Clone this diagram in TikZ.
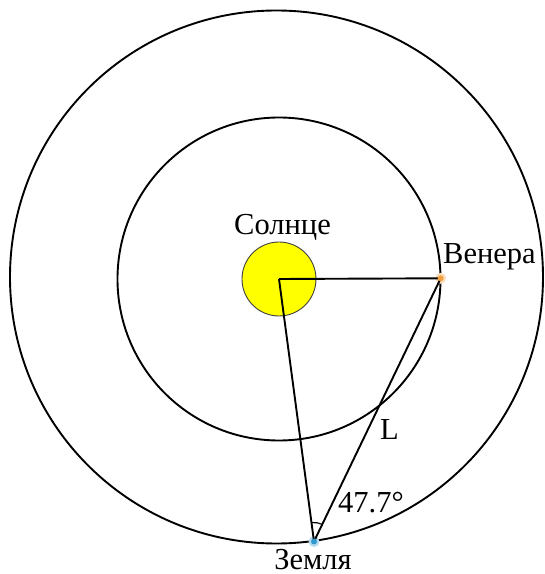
\documentclass[tikz,border=0pt]{standalone}
\usepackage{fontspec}
\setmainfont{Liberation Serif}
\newfontfamily\lblfont{Liberation Serif}
\usetikzlibrary{angles}
\definecolor{sunyellow}{HTML}{FFFF00}
\definecolor{venusorange}{HTML}{F5A040}
\definecolor{earthblue}{HTML}{3399CC}
\begin{document}
\begin{tikzpicture}[x=1pt,y=1pt,
  orbit/.style={draw=black, line width=1.9pt},
  link/.style={draw=black, line width=1.9pt},
  lbl/.style={font=\lblfont\fontsize{30.5}{36}\selectfont, inner sep=0pt},
  planet/.style={circle, inner sep=0pt, minimum size=6pt},
  halo/.style={circle, inner sep=0pt, minimum size=11pt}]
\useasboundingbox (0,0) rectangle (545,574);
\draw[orbit] (276.5,297) circle[radius=266.5pt];
\draw[orbit] (279,295) circle[radius=161.5pt];
\node[circle, draw=black!75, line width=0.9pt, fill=sunyellow, minimum size=74pt, inner sep=0pt] (sun) at (279,295) {};
\node[halo, fill=venusorange!35] (venushalo) at (440.7,295.7) {};
\node[halo, fill=earthblue!35] (earthhalo) at (314,32.5) {};
\node[planet] (venus) at (440.7,295.7) {};
\node[planet] (earth) at (314,32.5) {};
\draw[link] (sun.center) -- (venus.center);
\draw[link] (sun.center) -- (earth.center);
\draw[link] (venus.center) -- (earth.center);
\fill[venusorange] (venus) circle[radius=3pt];
\fill[earthblue] (earth) circle[radius=3pt];
\pic[draw, line width=1.1pt, angle radius=19pt] {angle=venus--earth--sun};
\node[lbl, anchor=base] (sunlbl) at (282.5,339.7) {Солнце};
\node[lbl, anchor=base west] (venuslbl) at (443,310.7) {Венера};
\node[lbl, anchor=base] (earthlbl) at (313,4.5) {Земля};
\node[lbl, anchor=base west] (llbl) at (380,134) {L};
\node[lbl, anchor=base west] (anglbl) at (338,61) {47.7°};
\end{tikzpicture}
\end{document}
